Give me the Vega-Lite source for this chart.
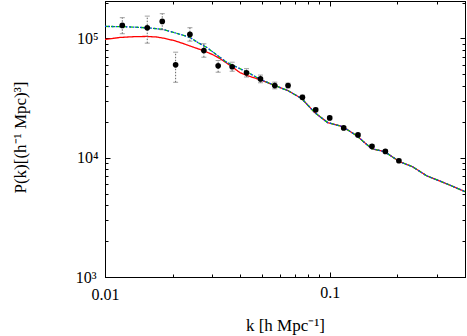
{
  "$schema": "https://vega.github.io/schema/vega-lite/v6.json",
  "width": 360,
  "height": 276,
  "autosize": {"type": "none"},
  "padding": {"left": 105, "top": 1, "right": 2, "bottom": 59},
  "background": "white",
  "config": {
    "view": {"stroke": "black", "strokeWidth": 1},
    "font": "Liberation Serif",
    "axis": {
      "grid": false,
      "domainColor": "black",
      "tickColor": "black",
      "labelColor": "black",
      "titleColor": "black",
      "labelFont": "Liberation Serif",
      "titleFont": "Liberation Serif",
      "labelFontSize": 16,
      "titleFontSize": 17,
      "titleFontWeight": "normal"
    }
  },
  "datasets": {
    "curves": [
      {"k": 0.0100, "P": 98100, "model": "red"},
      {"k": 0.01166, "P": 101900, "model": "red"},
      {"k": 0.0135, "P": 103500, "model": "red"},
      {"k": 0.01537, "P": 103900, "model": "red"},
      {"k": 0.0170, "P": 102800, "model": "red"},
      {"k": 0.01848, "P": 100000, "model": "red"},
      {"k": 0.0205, "P": 95500, "model": "red"},
      {"k": 0.02221, "P": 90800, "model": "red"},
      {"k": 0.0245, "P": 85000, "model": "red"},
      {"k": 0.02727, "P": 79300, "model": "red"},
      {"k": 0.0300, "P": 73500, "model": "red"},
      {"k": 0.03244, "P": 67900, "model": "red"},
      {"k": 0.0360, "P": 59500, "model": "red"},
      {"k": 0.03981, "P": 51800, "model": "red"},
      {"k": 0.04277, "P": 48900, "model": "red"},
      {"k": 0.04886, "P": 45200, "model": "red"},
      {"k": 0.05695, "P": 40300, "model": "red"},
      {"k": 0.06507, "P": 36600, "model": "red"},
      {"k": 0.07507, "P": 31300, "model": "red"},
      {"k": 0.08577, "P": 23900, "model": "red"},
      {"k": 0.09797, "P": 19700, "model": "red"},
      {"k": 0.1142, "P": 18200, "model": "red"},
      {"k": 0.1318, "P": 15300, "model": "red"},
      {"k": 0.1537, "P": 11900, "model": "red"},
      {"k": 0.1756, "P": 11230, "model": "red"},
      {"k": 0.2047, "P": 9260, "model": "red"},
      {"k": 0.2338, "P": 8400, "model": "red"},
      {"k": 0.2698, "P": 7060, "model": "red"},
      {"k": 0.3311, "P": 6050, "model": "red"},
      {"k": 0.402, "P": 5180, "model": "red"},

      {"k": 0.0100, "P": 126100, "model": "green"},
      {"k": 0.0120, "P": 125500, "model": "green"},
      {"k": 0.01431, "P": 123700, "model": "green"},
      {"k": 0.0162, "P": 121800, "model": "green"},
      {"k": 0.01811, "P": 119000, "model": "green"},
      {"k": 0.0210, "P": 110000, "model": "green"},
      {"k": 0.02387, "P": 101900, "model": "green"},
      {"k": 0.0260, "P": 92000, "model": "green"},
      {"k": 0.0284, "P": 84000, "model": "green"},
      {"k": 0.0315, "P": 72500, "model": "green"},
      {"k": 0.03485, "P": 62900, "model": "green"},
      {"k": 0.03981, "P": 55900, "model": "green"},
      {"k": 0.0441, "P": 50800, "model": "green"},
      {"k": 0.04886, "P": 45600, "model": "green"},
      {"k": 0.05695, "P": 40300, "model": "green"},
      {"k": 0.06507, "P": 36600, "model": "green"},
      {"k": 0.07507, "P": 31300, "model": "green"},
      {"k": 0.08577, "P": 23900, "model": "green"},
      {"k": 0.09797, "P": 19700, "model": "green"},
      {"k": 0.1142, "P": 18200, "model": "green"},
      {"k": 0.1318, "P": 15300, "model": "green"},
      {"k": 0.1537, "P": 11900, "model": "green"},
      {"k": 0.1756, "P": 11230, "model": "green"},
      {"k": 0.2047, "P": 9260, "model": "green"},
      {"k": 0.2338, "P": 8400, "model": "green"},
      {"k": 0.2698, "P": 7060, "model": "green"},
      {"k": 0.3311, "P": 6050, "model": "green"},
      {"k": 0.402, "P": 5180, "model": "green"},

      {"k": 0.0100, "P": 126100, "model": "blue"},
      {"k": 0.0120, "P": 125500, "model": "blue"},
      {"k": 0.01431, "P": 123700, "model": "blue"},
      {"k": 0.0162, "P": 121800, "model": "blue"},
      {"k": 0.01811, "P": 119000, "model": "blue"},
      {"k": 0.0210, "P": 110000, "model": "blue"},
      {"k": 0.02387, "P": 101900, "model": "blue"},
      {"k": 0.0260, "P": 92000, "model": "blue"},
      {"k": 0.0284, "P": 84000, "model": "blue"},
      {"k": 0.0315, "P": 72500, "model": "blue"},
      {"k": 0.03485, "P": 62900, "model": "blue"},
      {"k": 0.03981, "P": 55900, "model": "blue"},
      {"k": 0.0441, "P": 50800, "model": "blue"},
      {"k": 0.04886, "P": 45600, "model": "blue"},
      {"k": 0.05695, "P": 40300, "model": "blue"},
      {"k": 0.06507, "P": 36600, "model": "blue"},
      {"k": 0.07507, "P": 31300, "model": "blue"},
      {"k": 0.08577, "P": 23900, "model": "blue"},
      {"k": 0.09797, "P": 19700, "model": "blue"},
      {"k": 0.1142, "P": 18200, "model": "blue"},
      {"k": 0.1318, "P": 15300, "model": "blue"},
      {"k": 0.1537, "P": 11900, "model": "blue"},
      {"k": 0.1756, "P": 11230, "model": "blue"},
      {"k": 0.2047, "P": 9260, "model": "blue"},
      {"k": 0.2338, "P": 8400, "model": "blue"},
      {"k": 0.2698, "P": 7060, "model": "blue"},
      {"k": 0.3311, "P": 6050, "model": "blue"},
      {"k": 0.402, "P": 5180, "model": "blue"}
    ],
    "obs": [
      {"k": 0.01194, "P": 128600, "lo": 109500, "hi": 149300},
      {"k": 0.01542, "P": 123000, "lo": 91300, "hi": 153900},
      {"k": 0.01798, "P": 139000, "lo": 118300, "hi": 161300},
      {"k": 0.02062, "P": 60100, "lo": 42900, "hi": 76700},
      {"k": 0.02387, "P": 108100, "lo": 94900, "hi": 123000},
      {"k": 0.02754, "P": 79300, "lo": 69600, "hi": 90200},
      {"k": 0.03188, "P": 58900, "lo": 52100, "hi": 65300},
      {"k": 0.0368, "P": 57900, "lo": 53100, "hi": 63200},
      {"k": 0.04264, "P": 51500, "lo": 47500, "hi": 55800},
      {"k": 0.0492, "P": 45800, "lo": 42500, "hi": 49300},
      {"k": 0.05695, "P": 40300, "lo": 37800, "hi": 43000},
      {"k": 0.06525, "P": 40300, "lo": 38500, "hi": 42200},
      {"k": 0.07561, "P": 32100, "lo": 30800, "hi": 33500},
      {"k": 0.08665, "P": 25200, "lo": 24300, "hi": 26100},
      {"k": 0.1, "P": 21560, "lo": 20800, "hi": 22300},
      {"k": 0.1154, "P": 17770, "lo": 17200, "hi": 18300},
      {"k": 0.1336, "P": 15520, "lo": 15000, "hi": 16000},
      {"k": 0.1542, "P": 12450, "lo": 12050, "hi": 12850},
      {"k": 0.1769, "P": 11300, "lo": 10950, "hi": 11650},
      {"k": 0.2032, "P": 9440, "lo": 9150, "hi": 9750}
    ]
  },
  "layer": [
    {
      "layer": [
        {
          "data": {"name": "curves"},
          "mark": {"type": "line", "strokeWidth": 1.3, "clip": true},
          "encoding": {
            "x": {
              "field": "k", "type": "quantitative",
              "scale": {"type": "log", "domain": [0.01, 0.4], "nice": false},
              "axis": {
                "orient": "bottom",
                "values": [0.01, 0.02, 0.03, 0.04, 0.05, 0.06, 0.07, 0.08, 0.09, 0.1, 0.2, 0.3, 0.4],
                "labelExpr": "datum.value == 0.01 ? '0.01' : (datum.value == 0.1 ? '0.1' : '')",
                "tickSize": {"condition": {"test": "datum.value == 0.1", "value": -5}, "value": -3},
                "labelPadding": 12,
                "labelFlush": false,
                "title": "k [h Mpc⁻¹]",
                "titleX": 180,
                "titleY": 48,
                "titleBaseline": "middle",
                "titleAnchor": "middle"
              }
            },
            "y": {
              "field": "P", "type": "quantitative",
              "scale": {"type": "log", "domain": [1000, 206000], "nice": false},
              "axis": {
                "orient": "left",
                "values": [1000, 2000, 3000, 4000, 5000, 6000, 7000, 8000, 9000, 10000, 20000, 30000, 40000, 50000, 60000, 70000, 80000, 90000, 100000, 200000],
                "labelExpr": "datum.value == 1000 ? '10³' : (datum.value == 10000 ? '10⁴' : (datum.value == 100000 ? '10⁵' : ''))",
                "tickSize": {"condition": {"test": "datum.value == 10000 || datum.value == 100000", "value": -5}, "value": -3},
                "labelPadding": 12,
                "labelFlush": false,
                "title": "P(k)[(h⁻¹ Mpc)³]",
                "titleX": -85,
                "titleY": 136,
                "titleAngle": -90,
                "titleBaseline": "middle",
                "titleAnchor": "middle"
              }
            },
            "color": {
              "field": "model", "type": "nominal",
              "scale": {"domain": ["red", "green", "blue"], "range": ["#ff0000", "#00c800", "#1030ff"]},
              "legend": null
            },
            "strokeDash": {
              "field": "model", "type": "nominal",
              "scale": {"domain": ["red", "green", "blue"], "range": [[1, 0], [4, 2], [1.5, 2]]},
              "legend": null
            },
            "order": {"field": "k", "type": "quantitative"}
          }
        },
        {
          "data": {"name": "obs"},
          "mark": {"type": "rule", "color": "#666666", "strokeWidth": 1, "strokeDash": [1.5, 1.5]},
          "encoding": {
            "x": {"field": "k", "type": "quantitative"},
            "y": {"field": "lo", "type": "quantitative"},
            "y2": {"field": "hi"}
          }
        },
        {
          "data": {"name": "obs"},
          "mark": {"type": "tick", "color": "#777777", "orient": "horizontal", "size": 5, "thickness": 1},
          "encoding": {
            "x": {"field": "k", "type": "quantitative"},
            "y": {"field": "lo", "type": "quantitative"}
          }
        },
        {
          "data": {"name": "obs"},
          "mark": {"type": "tick", "color": "#777777", "orient": "horizontal", "size": 5, "thickness": 1},
          "encoding": {
            "x": {"field": "k", "type": "quantitative"},
            "y": {"field": "hi", "type": "quantitative"}
          }
        },
        {
          "data": {"name": "obs"},
          "mark": {"type": "point", "filled": true, "color": "black", "size": 32, "opacity": 1},
          "encoding": {
            "x": {"field": "k", "type": "quantitative"},
            "y": {"field": "P", "type": "quantitative"}
          }
        }
      ]
    },
    {
      "data": {"name": "obs"},
      "mark": {"type": "point", "opacity": 0},
      "encoding": {
        "x": {
          "field": "k", "type": "quantitative",
          "scale": {"type": "log", "domain": [0.01, 0.4], "nice": false},
          "axis": {
            "orient": "top",
            "values": [0.01, 0.02, 0.03, 0.04, 0.05, 0.06, 0.07, 0.08, 0.09, 0.1, 0.2, 0.3, 0.4],
            "labels": false,
            "title": null,
            "tickSize": {"condition": {"test": "datum.value == 0.1", "value": -5}, "value": -3}
          }
        },
        "y": {
          "field": "P", "type": "quantitative",
          "scale": {"type": "log", "domain": [1000, 206000], "nice": false},
          "axis": {
            "orient": "right",
            "values": [1000, 2000, 3000, 4000, 5000, 6000, 7000, 8000, 9000, 10000, 20000, 30000, 40000, 50000, 60000, 70000, 80000, 90000, 100000, 200000],
            "labels": false,
            "title": null,
            "tickSize": {"condition": {"test": "datum.value == 10000 || datum.value == 100000", "value": -5}, "value": -3}
          }
        }
      }
    }
  ],
  "resolve": {"axis": {"x": "independent", "y": "independent"}}
}
